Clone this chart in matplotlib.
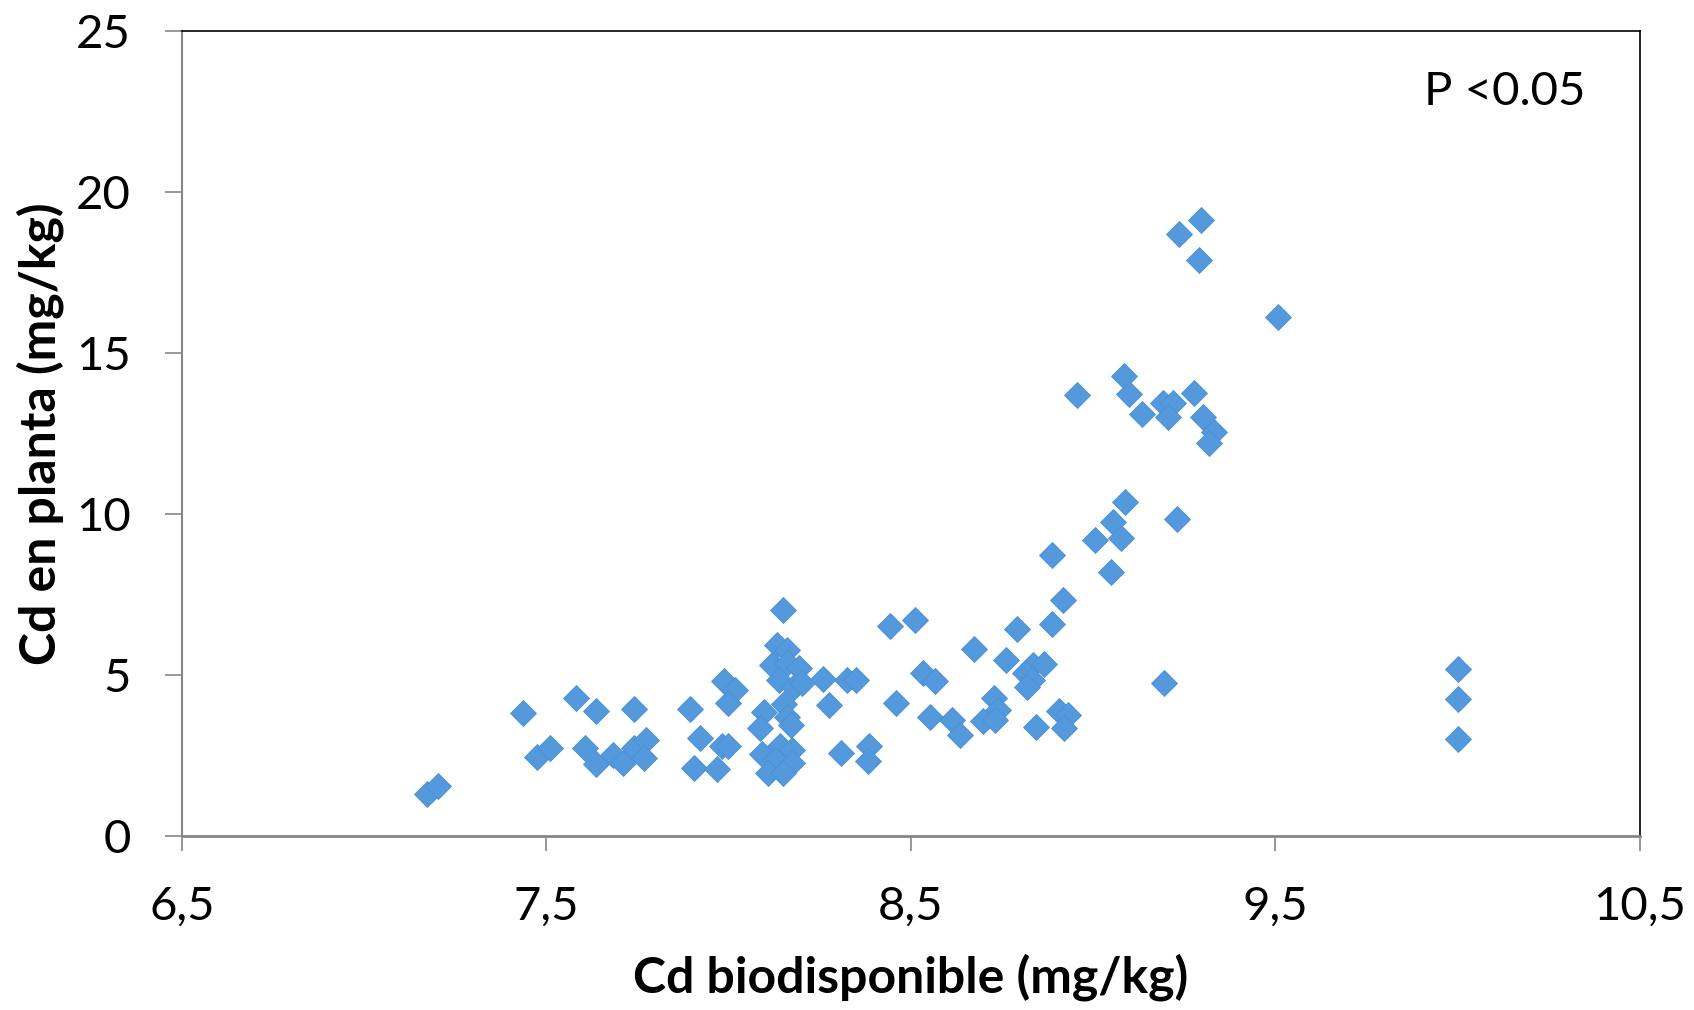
import numpy as np
import matplotlib.pyplot as plt

plt.rcParams['font.family'] = ['Lato', 'DejaVu Sans']

# Cd biodisponible (mg/kg)
cd_suelo = [7.173, 7.202, 7.436, 7.475, 7.510, 7.580, 7.637, 7.605, 7.636, 7.682,
            7.711, 7.740, 7.741, 7.774, 7.768, 7.895, 7.922, 7.904, 7.968, 7.987,
            8.018, 7.999, 7.981, 7.999,
            8.132, 8.149, 8.159, 8.119, 8.159, 8.192, 8.137, 8.178, 8.201, 8.259,
            8.324, 8.152, 8.098, 8.086, 8.159, 8.171, 8.276, 8.091, 8.141, 8.173,
            8.128, 8.173, 8.108, 8.150, 8.307,
            8.443, 8.512, 8.349, 8.386, 8.383, 8.459, 8.534, 8.566, 8.553, 8.612,
            8.635, 8.674, 8.790, 8.886, 8.918, 8.761, 8.836, 8.865, 8.813, 8.831,
            8.818, 8.729, 8.740, 8.699, 8.731, 8.842, 8.905, 8.932, 8.921,
            9.193,
            8.956, 9.085, 9.099, 9.134, 9.191, 9.220, 9.205, 9.277, 9.302, 9.332,
            9.318, 9.088, 9.229, 9.053, 9.005, 9.076, 8.888, 9.049,
            9.295, 9.236, 9.291, 9.508,
            10.0, 10.0, 10.0]

# Cd en planta (mg/kg)
cd_planta = [1.31, 1.56, 3.83, 2.46, 2.72, 4.29, 3.87, 2.72, 2.22, 2.52,
             2.27, 3.94, 2.72, 2.99, 2.42, 3.95, 3.03, 2.12, 2.08, 4.81,
             4.54, 4.13, 2.79, 2.80,
             5.94, 7.03, 5.79, 5.32, 5.37, 5.22, 4.85, 4.64, 4.75, 4.87,
             4.85, 4.11, 3.84, 3.36, 3.71, 3.46, 4.08, 2.55, 2.79, 2.68,
             2.37, 2.27, 1.95, 1.97, 2.57,
             6.53, 6.71, 4.83, 2.78, 2.32, 4.13, 5.06, 4.80, 3.69, 3.61,
             3.14, 5.82, 6.44, 6.58, 7.32, 5.47, 5.32, 5.35, 5.06, 4.85,
             4.64, 4.29, 3.92, 3.56, 3.61, 3.40, 3.87, 3.77, 3.35,
             4.74,
             13.70, 14.30, 13.73, 13.11, 13.45, 13.45, 13.01, 13.76, 13.01, 12.56,
             12.20, 10.36, 9.84, 9.76, 9.18, 9.25, 8.73, 8.21,
             19.14, 18.70, 17.90, 16.11,
             5.18, 4.25, 3.01]

xticks = [6.5, 7.5, 8.5, 9.5, 10.5]
xlabels = ['6,5', '7,5', '8,5', '9,5', '10,5']
yticks = [0, 5, 10, 15, 20, 25]

fig = plt.figure(figsize=(16.94, 10.10), dpi=100)
ax = fig.add_axes([0.1074, 0.1723, 0.8607, 0.7970])

ax.plot(cd_suelo, cd_planta, ls='none', marker='D', ms=13,
        color='#5499db', markeredgecolor='#4a90d6', markeredgewidth=0.6)

ax.set_xlim(6.5, 10.5)
ax.set_ylim(0, 25)
ax.set_xticks(xticks)
ax.set_xticklabels(xlabels)
ax.set_yticks(yticks)

ax.spines['left'].set_color('#868686')
ax.spines['bottom'].set_color('#868686')
ax.spines['left'].set_linewidth(1.5)
ax.spines['bottom'].set_linewidth(2)
ax.spines['top'].set_color('black')
ax.spines['right'].set_color('black')
ax.spines['top'].set_linewidth(1.2)
ax.spines['right'].set_linewidth(1.2)

ax.tick_params(axis='both', direction='out', color='#868686', width=1.2,
               labelsize=34, labelcolor='black')
ax.tick_params(axis='y', length=12, pad=25)
ax.tick_params(axis='x', length=11, pad=25)

ax.set_xlabel('Cd biodisponible (mg/kg)', fontsize=36, fontweight='bold')
ax.set_ylabel('Cd en planta (mg/kg)', fontsize=36, fontweight='bold')
ax.xaxis.set_label_coords(0.5, -0.176)
ax.xaxis.label.set_va('center')
ax.yaxis.set_label_coords(-0.097, 0.5)
ax.yaxis.label.set_va('center')

ax.text(0.852, 0.924, 'P <0.05', transform=ax.transAxes, fontsize=34,
        ha='left', va='center')

plt.savefig('out.png', dpi=100)
